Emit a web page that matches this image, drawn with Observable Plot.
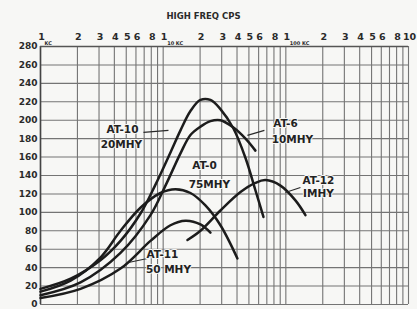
<!DOCTYPE html>
<html><head><meta charset="utf-8">
<script src="https://cdn.jsdelivr.net/npm/d3@7"></script>
<script src="https://cdn.jsdelivr.net/npm/@observablehq/plot@0.6"></script>
<style>
body{margin:0;background:#f7f7f5;}
#chart svg{display:block;}
</style>
</head><body><div id="chart"></div>
<script>
// frequency in KC, response values
const at10F = [1,1.76,3.08,4.49,6.55,8.58,11.47,13.84,16.69,20.14,24.29,29.3,37.4,46.9,56.5,65.7];
const at10V = [17,28,48,69,99,129,165,189,210,222,222,212,191,159,124,95];
const at6F = [1,2.12,4.49,7.88,10.44,13.84,16.69,20.14,24.29,29.3,37.4,46.9,56.5];
const at6V = [10,24,56,97,129,164,184,193,199,200,192,180,167];
const at0F = [1,1.76,3.08,4.49,6.53,9.51,12.6,16.69,22.1,29.3,40.3];
const at0V = [14,26,51,80,105,121,125,121,107.5,86,50];
const at11F = [1,2.12,4.49,7.88,11.47,15.2,20.14,24.29];
const at11V = [7,17,39,69,86,91,87,78];
const at12F = [15.78,20.14,29.3,42.7,56.5,68.2,90.4,119.7,144.5];
const at12V = [70,80,102,122,132,135,129,113,97];

const tickF = [1,2,3,4,5,6,8,10,20,30,40,50,60,80,100,200,300,400,500,600,800,1000];
const tickLabels = ["1","2","3","4","5","6","8","1","2","3","4","5","6","8","1","2","3","4","5","6","8","10"];
const decadeF = [1,10,100];
const decadeLabels = ["KC","10 KC","100 KC"];
const gridF = [1,2,3,4,5,6,7,8,9,10,20,30,40,50,60,70,80,90,100,200,300,400,500,600,700,800,900,1000];
const yTicks = [0,20,40,60,80,100,120,140,160,180,200,220,240,260,280];

const curveNames = ["AT-10","AT-6","AT-0","AT-11","AT-12"];
const labelText = ["AT-10","20MHY","AT-6","10MHY","AT-0","75MHY","AT-12","IMHY","AT-11","50 MHY"];
const labelF = [4.66, 4.57, 99.3, 113.2, 21.7, 23.8, 184.3, 184.3, 9.87, 11.04];
const labelV = [190, 173.7, 196.5, 179.2, 150.9, 130.3, 134.6, 120.5, 54.3, 38];
const leaderF1 = [6.91, 66.9, 131.5, 7.45];
const leaderV1 = [186.8, 188.9, 127, 49.9];
const leaderF2 = [11.04, 48.6, 99.2, 5.21];
const leaderV2 = [188.9, 183.5, 121.6, 45.6];

const curves = [[at10F,at10V],[at6F,at6V],[at0F,at0V],[at11F,at11V],[at12F,at12V]];
const pts = curves.flatMap(([F,V],k)=>F.map((f,i)=>({f, v:V[i], name:curveNames[k]})));
const labels = labelText.map((t,i)=>({t, f:labelF[i], v:labelV[i]}));
const leaders = leaderF1.map((f1,i)=>({f1, v1:leaderV1[i], f2:leaderF2[i], v2:leaderV2[i]}));

const chart = Plot.plot({
  width: 417, height: 309,
  marginLeft: 40, marginRight: 9, marginTop: 46, marginBottom: 5,
  style: {background: "#f7f7f5", fontFamily: "DejaVu Sans, sans-serif", color: "#2a2a2a"},
  x: {type: "log", domain: [1, 1000], axis: null},
  y: {domain: [0, 280]},
  marks: [
    Plot.ruleX(gridF, {stroke: "#747474", strokeWidth: 1.1}),
    Plot.ruleY(yTicks, {stroke: "#747474", strokeWidth: 1.1}),
    Plot.ruleX([1], {stroke: "#444", strokeWidth: 1.6}),
    Plot.ruleY([280], {stroke: "#555", strokeWidth: 1.3}),
    Plot.text(tickF, {x: d => d, text: tickLabels, frameAnchor: "top", dy: -13, dx: 1, fontSize: 9.5, fontWeight: "bold", fill: "#2a2a2a"}),
    Plot.text(decadeLabels, {x: decadeF, frameAnchor: "top", dy: -5, dx: 4, textAnchor: "start", fontSize: 5, fontWeight: "bold"}),
    Plot.text(["HIGH FREQ CPS"], {frameAnchor: "top", dy: -34, dx: -21, fontSize: 8.5, fontWeight: "bold"}),
    Plot.axisY({ticks: yTicks, tickSize: 0, tickPadding: 3, fontSize: 9, fontWeight: "bold", label: null}),
    Plot.line(pts, {x: "f", y: "v", z: "name", curve: "catmull-rom", stroke: "#1c1c1c", strokeWidth: 2.5}),
    Plot.link(leaders, {x1: "f1", y1: "v1", x2: "f2", y2: "v2", stroke: "#2a2a2a", strokeWidth: 1.2}),
    Plot.text(labels, {x: "f", y: "v", text: "t", fontSize: 10.5, fontWeight: "bold", fill: "#222", stroke: "#f7f7f5", strokeWidth: 2})
  ]
});
document.getElementById("chart").append(chart);
</script>
</body></html>
